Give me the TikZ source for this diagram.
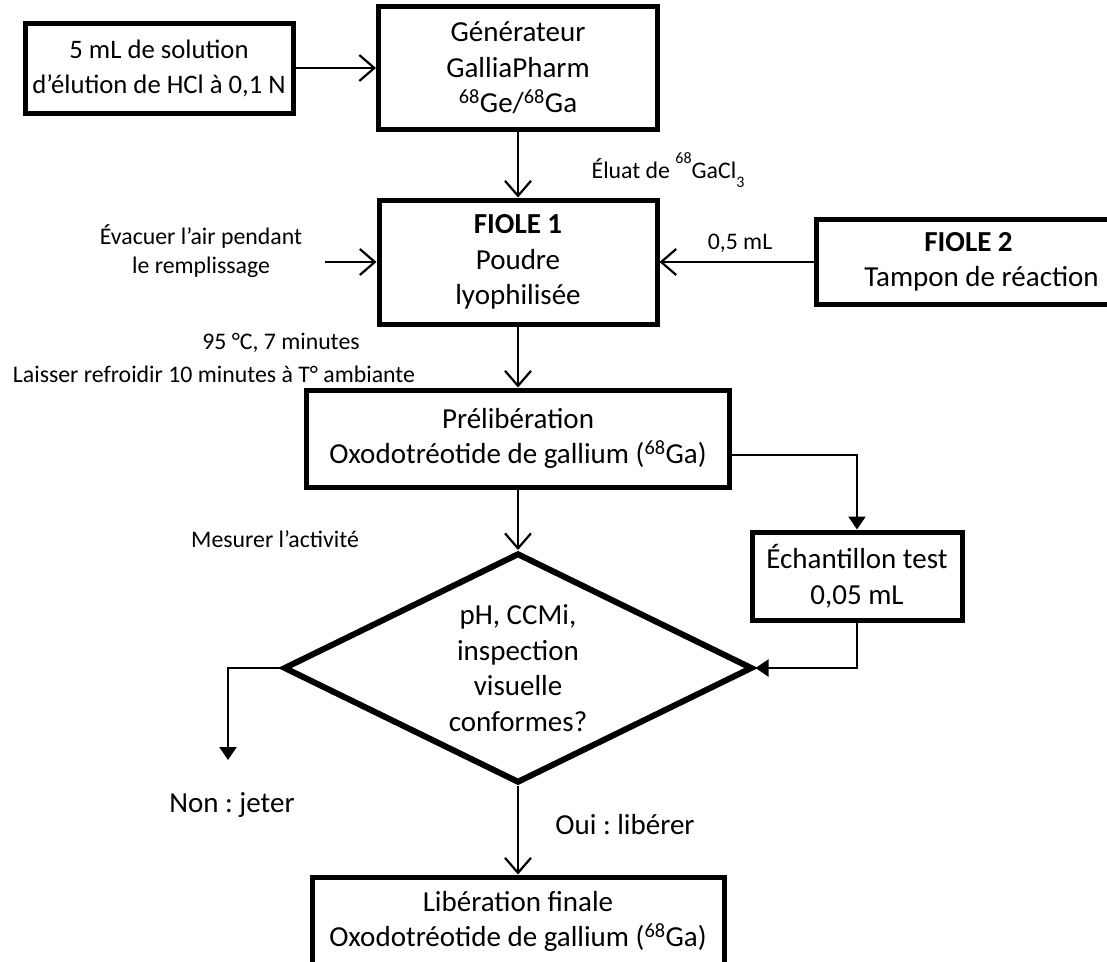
\documentclass[tikz,border=0pt]{standalone}
\usepackage{fontspec}
\setmainfont{Carlito}
\usetikzlibrary{arrows.meta,shapes.geometric}
\frenchspacing
\newcommand\boxfnt{\fontsize{29}{35.5}\selectfont}
\newcommand\smallboxfnt{\fontsize{26.7}{35}\selectfont}
\newcommand\lblfnt{\fontsize{23.8}{29}\selectfont}
\newcommand\supnum[1]{\raisebox{0.62em}{\fontsize{16}{16}\selectfont #1}}
\newcommand\subnum[1]{\raisebox{-0.38em}{\fontsize{16}{16}\selectfont #1}}
\begin{document}
\begin{tikzpicture}[x=1pt,y=-1pt,
  box/.style={draw, line width=5pt, align=center, font=\boxfnt, inner sep=0pt},
  dec/.style={draw, diamond, aspect=2, line width=6pt, align=center, font=\boxfnt, inner sep=0pt},
  lbl/.style={align=center, font=\lblfnt, inner sep=0pt},
  biglbl/.style={align=center, font=\boxfnt, inner sep=0pt},
  conn/.style={line width=2.2pt},
  openarr/.style={-{Straight Barb[length=15pt,width=26pt]}},
  trarr/.style={-{Triangle[length=13pt,width=17pt]}}]
\clip (0,0) rectangle (1107,961);
\fill[white] (0,0) rectangle (1107,961);
% boxes
\node[box, font=\smallboxfnt, minimum width=268pt, minimum height=90pt] (boxA) at (159,68) {5 mL de solution\\d’élution de HCl à 0,1 N};
\node[box, minimum width=279pt, minimum height=123pt] (gen) at (518,68) {Générateur\\GalliaPharm\\\textsuperscript{68}Ge/\textsuperscript{68}Ga};
\node[box, minimum width=278pt, minimum height=124pt] (fiole1) at (518,262) {\textbf{FIOLE 1}\\Poudre\\lyophilisée};
\node[box, minimum width=305pt, minimum height=85pt] (fiole2) at (968.5,262) {\textbf{FIOLE 2}\\\hspace*{26pt}Tampon de réaction};
\node[box, minimum width=423pt, minimum height=97pt] (prelib) at (518,438.5) {Prélibération\\Oxodotréotide de gallium (\textsuperscript{68}Ga)};
\node[box, minimum width=210pt, minimum height=88pt] (echant) at (857,576) {Échantillon test\\0,05 mL};
\node[dec, minimum width=469pt, minimum height=230pt] (dia) at (518,668) {pH, CCMi,\\inspection\\visuelle\\conformes?};
\node[box, minimum width=412pt, minimum height=89pt] (final) at (518,921.5) {Libération finale\\Oxodotréotide de gallium (\textsuperscript{68}Ga)};
% labels
\node[lbl] (eluat) at (668,170) {Éluat de \supnum{68}GaCl\subnum{3}};
\node[lbl] (evac) at (201,251) {Évacuer l’air pendant\\le remplissage};
\node[lbl] (vol) at (740,243) {0,5 mL};
\node[lbl] (temp) at (281,343) {95 °C, 7 minutes};
\node[lbl] (cool) at (214,374) {Laisser refroidir 10 minutes à T° ambiante};
\node[lbl] (mes) at (275,539) {Mesurer l’activité};
\node[biglbl] (non) at (232,805) {Non : jeter};
\node[biglbl] (oui) at (625,825) {Oui : libérer};
% connectors
\coordinate (evs) at (325,262);
\coordinate (nonend) at (228,760);
\draw[conn, openarr] (boxA.east) -- (boxA.east -| gen.west);
\draw[conn, openarr] (gen.south) -- (fiole1.north);
\draw[conn, openarr] (evs) -- (fiole1.west);
\draw[conn, openarr] (fiole2.west) -- (fiole1.east);
\draw[conn, openarr] (fiole1.south) -- (prelib.north);
\draw[conn, openarr] (prelib.south) -- (dia.north);
\draw[conn, trarr] ([yshift=-16.5pt]prelib.east) -| (echant.north);
\draw[conn, trarr] (echant.south) |- (dia.east);
\draw[conn, trarr] (dia.west) -| (nonend);
\draw[conn, openarr] (dia.south) -- (final.north);
\end{tikzpicture}
\end{document}
